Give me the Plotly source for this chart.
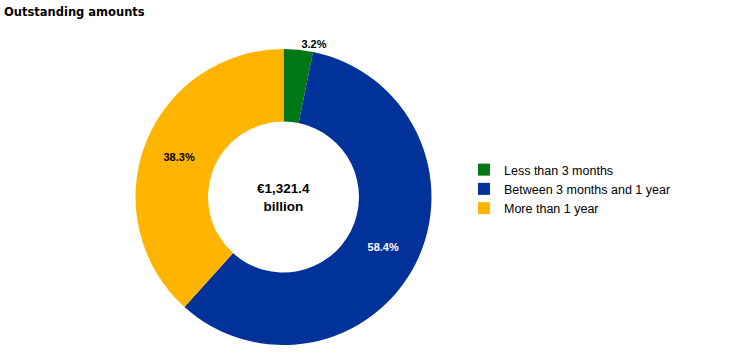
import plotly.graph_objects as go

labels = ["Less than 3 months", "Between 3 months and 1 year", "More than 1 year"]
values = [3.2, 58.4, 38.3]
colors = ["#007816", "#003299", "#ffb400"]
text_colors = ["#000000", "#ffffff", "#000000"]
text_positions = ["outside", "inside", "inside"]
center_text = "€1,321.4<br>billion"
title_text = "Outstanding amounts"

W, H = 744, 357
cx0, cx1 = 135, 432
cy0, cy1 = 49, 345

fig = go.Figure(go.Pie(
    labels=labels,
    values=values,
    marker=dict(colors=colors, line=dict(width=0)),
    hole=0.51,
    sort=False,
    direction="clockwise",
    rotation=0,
    texttemplate="%{value:.1f}%",
    textposition=text_positions,
    insidetextorientation="horizontal",
    textfont=dict(family="Liberation Sans, Arial", size=11, color=text_colors),
    outsidetextfont=dict(family="Liberation Sans, Arial", size=11, color="#000000"),
    insidetextfont=dict(family="Liberation Sans, Arial", size=11, color=text_colors),
    domain=dict(x=[cx0 / W, cx1 / W], y=[(H - cy1) / H, (H - cy0) / H]),
    hoverinfo="label+value",
))

fig.update_traces(textfont_weight="bold")

fig.add_annotation(
    text="<b>" + center_text + "</b>",
    x=(cx0 + cx1) / 2 / W, y=1 - (cy0 + cy1) / 2 / H,
    xref="paper", yref="paper", showarrow=False,
    font=dict(family="Liberation Sans, Arial", size=13.5, color="#000000"),
    align="center",
)

fig.update_layout(
    width=W, height=H,
    margin=dict(l=0, r=0, t=0, b=0),
    paper_bgcolor="white",
    plot_bgcolor="white",
    font=dict(family="Liberation Sans, Arial", size=12, color="#000000"),
    title=dict(text="<b>" + title_text + "</b>", x=4 / W, xanchor="left",
               y=1 - 12 / H, yanchor="middle",
               font=dict(family="DejaVu Sans, Verdana", size=11.5, color="#000000")),
    legend=dict(x=464 / W, xanchor="left", y=1 - 189 / H, yanchor="middle",
                font=dict(family="Liberation Sans, Arial", size=12.5, color="#000000"),
                itemwidth=30, tracegroupgap=4, bgcolor="rgba(0,0,0,0)"),
    showlegend=True,
)

fig.write_html("out.html")
